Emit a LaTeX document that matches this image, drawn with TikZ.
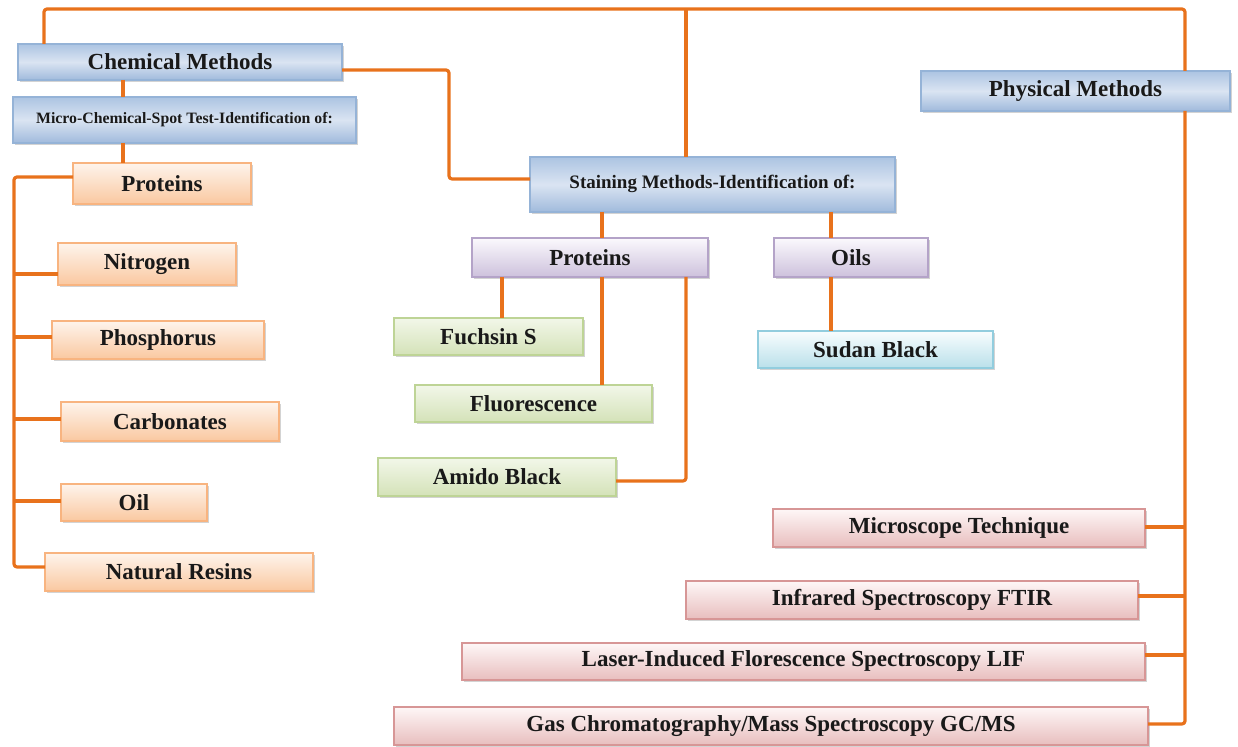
\documentclass[tikz,border=0pt]{standalone}
\usepackage{fontspec}
\setmainfont{Liberation Serif}
\usetikzlibrary{shadows}
\definecolor{connc}{RGB}{232,114,28}
\definecolor{txtc}{RGB}{25,25,25}
\definecolor{bluebd}{RGB}{149,179,215}
\definecolor{bluetop}{RGB}{172,196,226}
\definecolor{bluemid}{RGB}{218,228,242}
\definecolor{bluebot}{RGB}{160,186,220}
\definecolor{orabd}{RGB}{248,180,128}
\definecolor{oratop}{RGB}{254,244,236}
\definecolor{orabot}{RGB}{250,200,160}
\definecolor{purbd}{RGB}{180,163,200}
\definecolor{purtop}{RGB}{251,249,253}
\definecolor{purbot}{RGB}{205,193,220}
\definecolor{grebd}{RGB}{190,212,150}
\definecolor{gretop}{RGB}{242,247,233}
\definecolor{grebot}{RGB}{212,226,184}
\definecolor{cyabd}{RGB}{146,205,222}
\definecolor{cyatop}{RGB}{248,253,254}
\definecolor{cyabot}{RGB}{186,224,234}
\definecolor{redbd}{RGB}{215,150,150}
\definecolor{redtop}{RGB}{254,247,247}
\definecolor{redbot}{RGB}{232,190,190}
\newcommand{\mybox}[7]{\node[#2, minimum width={(#5-#3)*0.5pt}, minimum height={(#6-#4)*0.5pt}] (#1) at ({(#3+#5)/2},{(#4+#6)/2}) {#7};}
\tikzset{
  basebox/.style={draw, line width=0.6pt, inner sep=0pt, outer sep=0pt,
    font=\bfseries\fontsize{11.5}{13}\selectfont, text=txtc,
    drop shadow={shadow xshift=1pt, shadow yshift=-1.2pt, opacity=0.35}},
  bluebox/.style={basebox, draw=bluebd, top color=bluetop, bottom color=bluebot, middle color=bluemid},
  orabox/.style={basebox, draw=orabd, top color=oratop, bottom color=orabot},
  purbox/.style={basebox, draw=purbd, top color=purtop, bottom color=purbot},
  grebox/.style={basebox, draw=grebd, top color=gretop, bottom color=grebot},
  cyabox/.style={basebox, draw=cyabd, top color=cyatop, bottom color=cyabot},
  redbox/.style={basebox, draw=redbd, top color=redtop, bottom color=redbot},
  conn/.style={draw=connc, line width=1.6pt, rounded corners=1.5pt, line join=round}
}
\begin{document}
\begin{tikzpicture}[x=0.5pt,y=-0.5pt]
\useasboundingbox (0,0) rectangle (1238,747);
% boxes
\mybox{chem}{bluebox}{18}{44}{342}{80}{Chemical Methods}
\mybox{micro}{bluebox, font=\bfseries\fontsize{7.9}{9}\selectfont}{13}{97}{356}{143}{Micro-Chemical-Spot Test-Identification of:}
\mybox{pa}{orabox}{73}{163}{251}{204}{Proteins}
\mybox{nit}{orabox}{58}{243}{236}{285}{Nitrogen}
\mybox{pho}{orabox}{52}{321}{264}{359}{Phosphorus}
\mybox{carb}{orabox}{61}{402}{279}{441}{Carbonates}
\mybox{oil}{orabox}{61}{484}{207}{521}{Oil}
\mybox{res}{orabox}{45}{553}{313}{591}{Natural Resins}
\mybox{stain}{bluebox, font=\bfseries\fontsize{9.5}{11}\selectfont}{530}{157}{895}{212}{\raisebox{2.5pt}{Staining Methods-Identification of:}}
\mybox{pb}{purbox}{472}{238}{708}{277}{Proteins}
\mybox{oils}{purbox}{774}{238}{928}{277}{Oils}
\mybox{fuch}{grebox}{394}{318}{583}{355}{Fuchsin S}
\mybox{fluo}{grebox}{415}{385}{652}{422}{Fluorescence}
\mybox{amido}{grebox}{378}{458}{616}{496}{Amido Black}
\mybox{sudan}{cyabox}{758}{331}{993}{368}{Sudan Black}
\mybox{phys}{bluebox}{921}{71}{1230}{111}{Physical Methods}
\mybox{mic}{redbox}{773}{509}{1145}{547}{Microscope Technique}
\mybox{ir}{redbox}{686}{581}{1138}{619}{Infrared Spectroscopy FTIR}
\mybox{lif}{redbox}{462}{643}{1145}{680}{Laser-Induced Florescence Spectroscopy LIF}
\mybox{gc}{redbox}{394}{707}{1148}{745}{Gas Chromatography/Mass Spectroscopy GC/MS}
% helper coordinates
\coordinate (tl) at (44,9);
\coordinate (tm) at (686,9);
\coordinate (tr) at (1185,9);
\coordinate (cj) at (449,70);
\coordinate (sj) at (449,179);
\coordinate (ls) at (14,0);
% connectors
\draw[conn] (chem.north -| tl) -- (tl) -- (tr) -- (phys.north -| tr);
\draw[conn] (tm) -- (stain.north -| tm);
\draw[conn] (chem.east |- cj) -- (cj) -- (sj) -- (stain.west |- sj);
\draw[conn] (chem.south -| 123,0) -- (micro.north -| 123,0);
\draw[conn] (micro.south -| 123,0) -- (pa.north -| 123,0);
% left spine
\draw[conn] (pa.west |- 0,177) -- (ls |- 0,177) -- (ls |- 0,567) -- (res.west |- 0,567);
\draw[conn] (ls |- 0,274) -- (nit.west |- 0,274);
\draw[conn] (ls |- 0,337) -- (pho.west |- 0,337);
\draw[conn] (ls |- 0,419) -- (carb.west |- 0,419);
\draw[conn] (ls |- 0,501) -- (oil.west |- 0,501);
% staining children
\draw[conn] (stain.south -| 602,0) -- (pb.north -| 602,0);
\draw[conn] (stain.south -| 831,0) -- (oils.north -| 831,0);
\draw[conn] (pb.south -| 502,0) -- (fuch.north -| 502,0);
\draw[conn] (pb.south -| 602,0) -- (fluo.north -| 602,0);
\draw[conn] (pb.south -| 686,0) -- (686,481) -- (amido.east |- 0,481);
\draw[conn] (oils.south -| 831,0) -- (sudan.north -| 831,0);
% right spine
\draw[conn] (phys.south -| tr) -- (tr |- 0,724) -- (gc.east |- 0,724);
\draw[conn] (tr |- 0,527) -- (mic.east |- 0,527);
\draw[conn] (tr |- 0,596) -- (ir.east |- 0,596);
\draw[conn] (tr |- 0,655) -- (lif.east |- 0,655);
\end{tikzpicture}
\end{document}
